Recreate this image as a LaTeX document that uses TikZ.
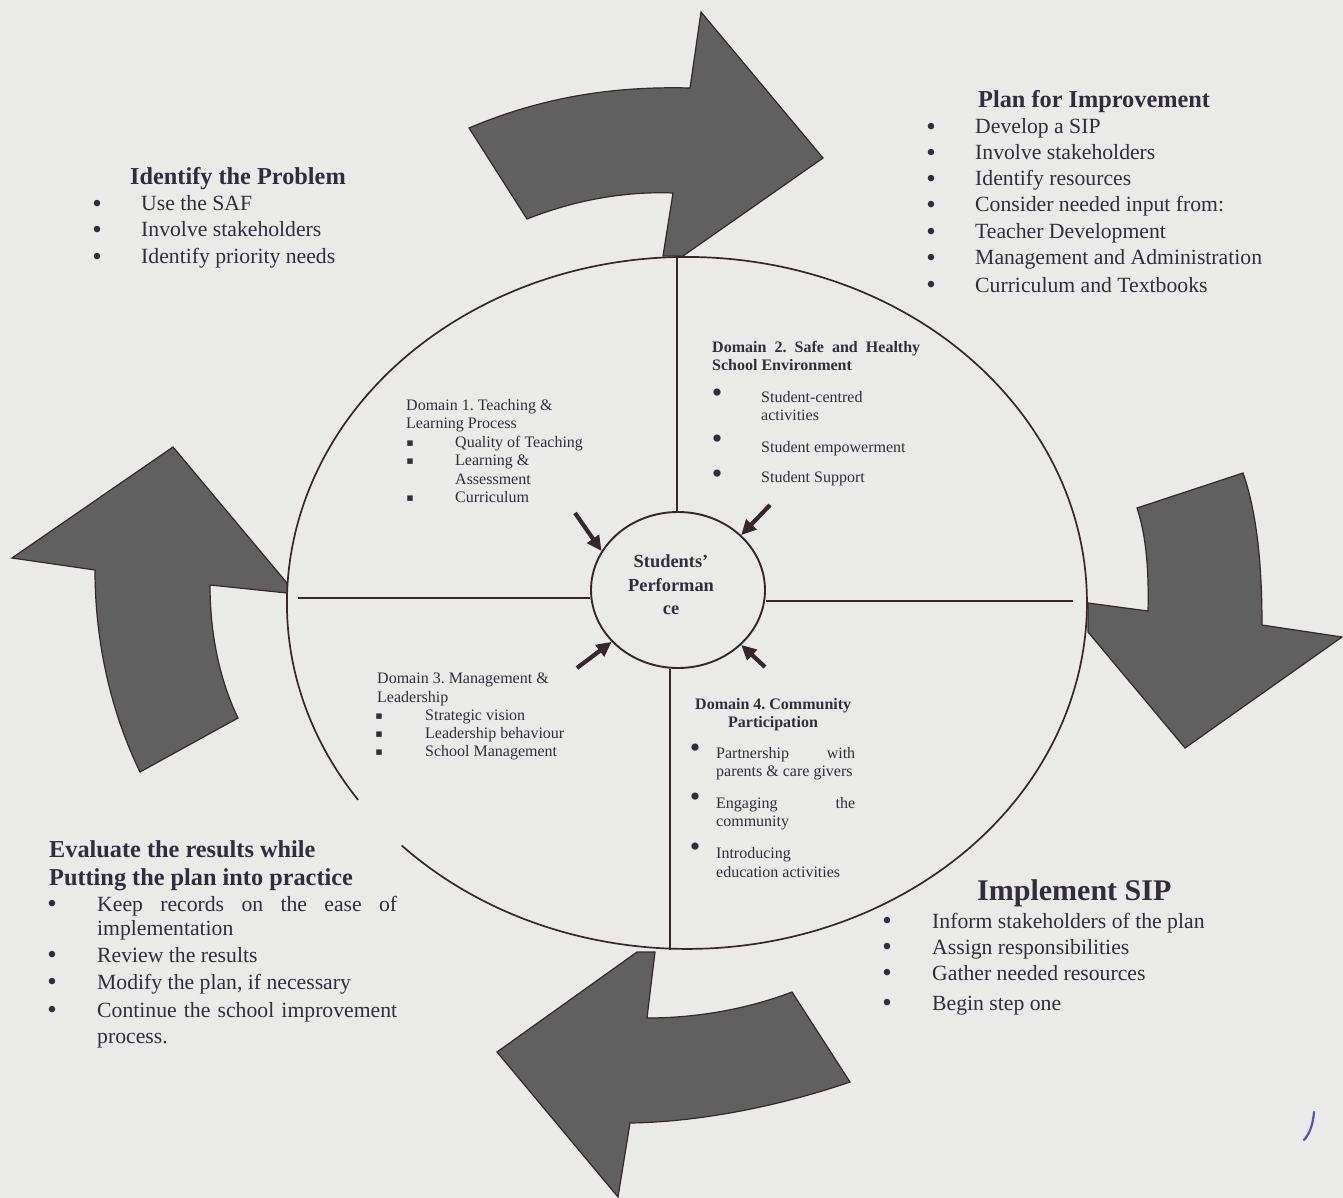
\documentclass[tikz,border=0pt]{standalone}
\usepackage{fontspec}
\setmainfont{Liberation Serif}
\newfontfamily\symfont{DejaVu Sans}
\usetikzlibrary{arrows.meta,shapes.geometric}
\definecolor{bg}{RGB}{234,234,232}
\definecolor{ink}{RGB}{50,45,58}
\definecolor{arrowfill}{RGB}{96,96,96}
\definecolor{lineink}{RGB}{52,40,46}
\definecolor{pen}{RGB}{85,80,190}
\frenchspacing
\begin{document}
\frenchspacing
\begin{tikzpicture}[x=1pt,y=-1pt,
  body/.style={anchor=base west, inner sep=0pt, text=ink, font=\fontsize{21.7}{26}\selectfont},
  head/.style={anchor=base west, inner sep=0pt, text=ink, font=\fontsize{24.3}{28}\selectfont\bfseries},
  bighead/.style={anchor=base west, inner sep=0pt, text=ink, font=\fontsize{30}{34}\selectfont\bfseries},
  bul/.style={anchor=base, inner sep=0pt, text=ink, yshift=-1.6pt, font=\fontsize{27}{27}\selectfont},
  small/.style={anchor=base west, inner sep=0pt, text=ink, font=\fontsize{16}{18}\selectfont},
  smallb/.style={anchor=base west, inner sep=0pt, text=ink, font=\fontsize{16}{18}\selectfont\bfseries},
  sq/.style={anchor=base, inner sep=0pt, text=ink, font=\symfont\fontsize{11}{12}\selectfont},
  dot/.style={anchor=base, inner sep=0pt, text=ink, font=\fontsize{30}{30}\selectfont},
  bigarrow/.style={fill=arrowfill, draw=lineink, line width=1.2pt, line join=miter},
  frame/.style={draw=lineink, line width=1.7pt},
  pointer/.style={draw=lineink, line width=4.2pt, -{Triangle[length=15pt,width=14pt]}}
]
\fill[bg] (0,0) rectangle (1343,1198);
\useasboundingbox (0,0) rectangle (1343,1198);

% ---------- outer ellipse with gap on the lower left ----------
\draw[frame] (358.1,799.9) arc[start angle=145.3,end angle=495.5,x radius=400,y radius=346];

% ---------- centre ----------
\node[draw=lineink, line width=1.9pt, ellipse, minimum width=174pt, minimum height=156pt, inner sep=0pt] (perf) at (678,590) {};
\node[inner sep=0pt, text=ink, align=center, font=\fontsize{18.4}{23.5}\selectfont\bfseries] (perfT) at (671,585) {Students’\\Performan\\ce};

% dividing lines
\coordinate (vTop) at (677,257);
\coordinate (vBot) at (670,950);
\coordinate (hL) at (298,598);
\coordinate (hR) at (1073,601);
\draw[frame] (vTop) -- (vTop |- perf.north);
\draw[frame] (vBot |- perf.south) -- (vBot);
\draw[frame] (hL) -- (perf.west |- hL);
\draw[frame] (perf.east |- hR) -- (hR);

% pointer arrows
\coordinate (t1) at (575,513);
\coordinate (t2) at (770,505);
\coordinate (t3) at (577,668);
\coordinate (t4) at (765,667);
\draw[pointer] (t1) -- (perf.153);
\draw[pointer] (t2) -- (perf.41);
\draw[pointer] (t3) -- (perf.218);
\draw[pointer] (t4) -- (perf.319);

% ---------- big cycle arrows ----------
% top
\filldraw[bigarrow] (469,128) .. controls (540,98) and (610,86) .. (690,88)
  -- (701,12) -- (823,158) -- (683,256) -- (663,256) -- (673,193)
  .. controls (620,191) and (570,202) .. (527,219) -- cycle;
% right
\filldraw[bigarrow] (1137,508) -- (1243,473) .. controls (1256,510) and (1262,560) .. (1262,625)
  -- (1342,637) -- (1185,748) -- (1088,632) -- (1088,603) -- (1148,611)
  .. controls (1149,570) and (1146,535) .. (1137,508) -- cycle;
% bottom
\filldraw[bigarrow] (637,952) -- (655,952) -- (647,1018)
  .. controls (700,1018) and (750,1008) .. (792,992) -- (850,1082)
  .. controls (780,1106) and (700,1122) .. (630,1123) -- (618,1197) -- (497,1052) -- cycle;
% left
\filldraw[bigarrow] (12,558) -- (173,447) -- (287,583) -- (287,593) -- (210,585)
  .. controls (210,640) and (222,685) .. (238,718) -- (140,772)
  .. controls (110,710) and (95,640) .. (95,570) -- cycle;

% ---------- Identify the Problem ----------
\node[head] (idT) at (130,185) {Identify the Problem};
\node[bul] (idB1) at (97,211) {•};
\node[body] (id1) at (141,211) {Use the SAF};
\node[bul] (idB2) at (97,237) {•};
\node[body] (id2) at (141,237) {Involve stakeholders};
\node[bul] (idB3) at (97,264) {•};
\node[body] (id3) at (141,264) {Identify priority needs};

% ---------- Plan for Improvement ----------
\node[head] (plT) at (978,108) {Plan for Improvement};
\node[bul] (plB1) at (931,134) {•};
\node[body] (pl1) at (975,134) {Develop a SIP};
\node[bul] (plB2) at (931,160) {•};
\node[body] (pl2) at (975,160) {Involve stakeholders};
\node[bul] (plB3) at (931,186) {•};
\node[body] (pl3) at (975,186) {Identify resources};
\node[bul] (plB4) at (931,212) {•};
\node[body] (pl4) at (975,212) {Consider needed input from:};
\node[bul] (plB5) at (931,239) {•};
\node[body] (pl5) at (975,239) {Teacher Development};
\node[bul] (plB6) at (931,265) {•};
\node[body] (pl6) at (975,265) {Management and Administration};
\node[bul] (plB7) at (931,292) {•};
\node[body] (pl7) at (975,292) {Curriculum and Textbooks};

% ---------- Evaluate ----------
\node[head] (evT1) at (49,857) {Evaluate the results while};
\node[head] (evT2) at (49,885) {Putting the plan into practice};
\node[bul] (evB1) at (52,911) {•};
\node[body] (ev1) at (97,911) {\makebox[300pt][s]{Keep records on the ease of}};
\node[body] (ev1b) at (97,935) {implementation};
\node[bul] (evB2) at (52,962) {•};
\node[body] (ev2) at (97,962) {Review the results};
\node[bul] (evB3) at (52,989) {•};
\node[body] (ev3) at (97,989) {Modify the plan, if necessary};
\node[bul] (evB4) at (52,1017) {•};
\node[body] (ev4) at (97,1017) {\makebox[300pt][s]{Continue the school improvement}};
\node[body] (ev4b) at (97,1043) {process.};

% ---------- Implement SIP ----------
\node[bighead] (imT) at (977,900) {Implement SIP};
\node[bul] (imB1) at (887,928) {•};
\node[body] (im1) at (932,928) {Inform stakeholders of the plan};
\node[bul] (imB2) at (887,954) {•};
\node[body] (im2) at (932,954) {Assign responsibilities};
\node[bul] (imB3) at (887,980) {•};
\node[body] (im3) at (932,980) {Gather needed resources};
\node[bul] (imB4) at (887,1010) {•};
\node[body] (im4) at (932,1010) {Begin step one};

% ---------- Domain 1 ----------
\node[small] (d1a) at (406,410) {Domain 1. Teaching \&};
\node[small] (d1b) at (406,428) {Learning Process};
\node[sq] (d1s1) at (410,446) {▪};
\node[small] (d1c) at (455,447) {Quality of Teaching};
\node[sq] (d1s2) at (410,464) {▪};
\node[small] (d1d) at (455,465) {Learning \&};
\node[small] (d1e) at (455,484) {Assessment};
\node[sq] (d1s3) at (410,501) {▪};
\node[small] (d1f) at (455,502) {Curriculum};

% ---------- Domain 2 ----------
\node[smallb] (d2a) at (712,352) {\makebox[208pt][s]{Domain 2. Safe and Healthy}};
\node[smallb] (d2b) at (712,370) {School Environment};
\node[dot] (d2p1) at (717,402.6) {•};
\node[small] (d2c) at (761,402) {Student-centred};
\node[small] (d2d) at (761,420) {activities};
\node[dot] (d2p2) at (717,448.6) {•};
\node[small] (d2e) at (761,452) {Student empowerment};
\node[dot] (d2p3) at (717,483.6) {•};
\node[small] (d2f) at (761,482) {Student Support};

% ---------- Domain 3 ----------
\node[small] (d3a) at (377,683) {Domain 3. Management \&};
\node[small] (d3b) at (377,702) {Leadership};
\node[sq] (d3s1) at (379,719) {▪};
\node[small] (d3c) at (425,720) {Strategic vision};
\node[sq] (d3s2) at (379,737) {▪};
\node[small] (d3d) at (425,738) {Leadership behaviour};
\node[sq] (d3s3) at (379,755) {▪};
\node[small] (d3e) at (425,756) {School Management};

% ---------- Domain 4 ----------
\node[smallb] (d4a) at (695,709) {Domain 4. Community};
\node[smallb, anchor=base] (d4b) at (773,727) {Participation};
\node[dot] (d4p1) at (695,757.6) {•};
\node[small] (d4c) at (716,758) {\makebox[139pt][s]{Partnership with}};
\node[small] (d4d) at (716,776) {parents \& care givers};
\node[dot] (d4p2) at (695,806.6) {•};
\node[small] (d4e) at (716,808) {\makebox[139pt][s]{Engaging the}};
\node[small] (d4f) at (716,826) {community};
\node[dot] (d4p3) at (695,856.6) {•};
\node[small] (d4g) at (716,858) {Introducing};
\node[small] (d4h) at (716,877) {education activities};

% pen mark
\draw[pen, line width=2.2pt, line cap=round] (1314,1112) .. controls (1313,1124) and (1310,1133) .. (1304,1140);
\end{tikzpicture}
\end{document}
